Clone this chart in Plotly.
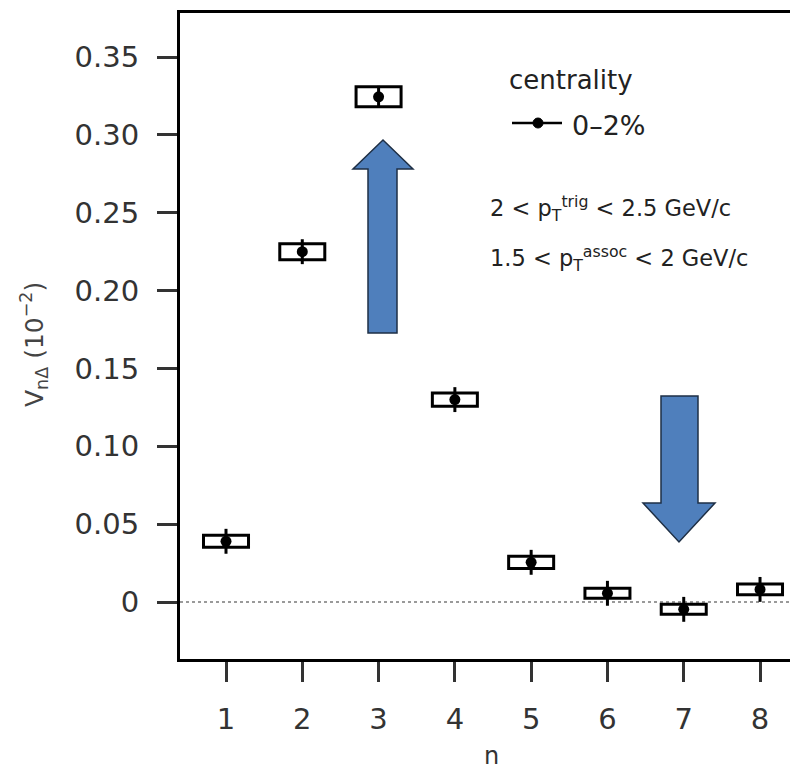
import plotly.graph_objects as go

# ---- data ----
n_vals = [1, 2, 3, 4, 5, 6, 7, 8]
v_vals = [0.039, 0.225, 0.3245, 0.130, 0.0255, 0.0056, -0.0047, 0.0081]
stat_err = [0.008, 0.008, 0.007, 0.008, 0.008, 0.008, 0.008, 0.008]
sys_err = [0.0039, 0.0051, 0.0064, 0.0042, 0.0039, 0.0032, 0.0032, 0.0035]
sys_halfwidth = 0.295
y_tickvals = [0, 0.05, 0.10, 0.15, 0.20, 0.25, 0.30, 0.35]
y_ticktext = ["0", "0.05", "0.10", "0.15", "0.20", "0.25", "0.30", "0.35"]
x_tickvals = [1, 2, 3, 4, 5, 6, 7, 8]
x_ticktext = ["1", "2", "3", "4", "5", "6", "7", "8"]

W, H = 790, 773
ML, MT, MR, MB = 180, 13, 0, 114
PW, PH = W - ML - MR, H - MT - MB


def px(x):
    return (x - ML) / PW


def py(y):
    return (H - MB - y) / PH


FONT = "DejaVu Sans"

fig = go.Figure()

# systematic boxes
for n, v, s in zip(n_vals, v_vals, sys_err):
    fig.add_shape(type="rect", xref="x", yref="y",
                  x0=n - sys_halfwidth, x1=n + sys_halfwidth, y0=v - s, y1=v + s,
                  line=dict(color="black", width=3), fillcolor="rgba(0,0,0,0)",
                  layer="above")

fig.add_trace(go.Scatter(
    x=n_vals, y=v_vals, mode="markers",
    marker=dict(color="black", size=11),
    error_y=dict(type="data", array=stat_err, color="black", thickness=3, width=0),
    showlegend=False, cliponaxis=False,
))

# zero dotted line
fig.add_shape(type="line", xref="paper", yref="y", x0=0, x1=1, y0=0, y1=0,
              line=dict(color="#9a9a9a", width=2, dash="dot"), layer="below")

# arrows
ARROW_FILL = "#4f7fbc"
ARROW_LINE = "#1e2f45"
up = [(368, 333), (368, 169), (353, 169), (383, 140), (413, 169), (397, 169), (397, 333)]
down = [(661, 396), (698, 396), (698, 503), (715, 503), (679, 542), (643, 503), (661, 503)]
for pts in (up, down):
    path = "M " + " L ".join(f"{px(a):.5f},{py(b):.5f}" for a, b in pts) + " Z"
    fig.add_shape(type="path", xref="paper", yref="paper", path=path,
                  fillcolor=ARROW_FILL, line=dict(color=ARROW_LINE, width=1.5))

# legend (manual)
fig.add_annotation(xref="paper", yref="paper", x=px(507), y=py(80), xanchor="left",
                   yanchor="middle", text="centrality", showarrow=False,
                   font=dict(family=FONT, size=26, color="#222"))
fig.add_shape(type="line", xref="paper", yref="paper", x0=px(512), x1=px(562),
              y0=py(123), y1=py(123), line=dict(color="black", width=2.5))
fig.add_shape(type="circle", xref="paper", yref="paper", x0=px(533), x1=px(543),
              y0=py(118), y1=py(128), fillcolor="black", line=dict(color="black", width=1))
fig.add_annotation(xref="paper", yref="paper", x=px(570), y=py(125), xanchor="left",
                   yanchor="middle", text="0\u20132%", showarrow=False,
                   font=dict(family=FONT, size=27, color="#222"))

# kinematic text
fig.add_annotation(xref="paper", yref="paper", x=px(488), y=py(208), xanchor="left",
                   yanchor="middle",
                   text="2 &lt; p<sub>T</sub><sup>trig</sup> &lt; 2.5 GeV/c", showarrow=False,
                   font=dict(family=FONT, size=22.5, color="#222"))
fig.add_annotation(xref="paper", yref="paper", x=px(488), y=py(258), xanchor="left",
                   yanchor="middle",
                   text="1.5 &lt; p<sub>T</sub><sup>assoc</sup> &lt; 2 GeV/c", showarrow=False,
                   font=dict(family=FONT, size=22.5, color="#222"))

# y title
fig.add_annotation(xref="paper", yref="paper", x=px(34), y=py(345), xanchor="center",
                   yanchor="middle", textangle=-90,
                   text="V<sub>n\u0394</sub> (10<sup>\u22122</sup>)", showarrow=False,
                   font=dict(family=FONT, size=25, color="#444"))
# x title
fig.add_annotation(xref="paper", yref="paper", x=px(491), y=py(756), xanchor="center",
                   yanchor="middle", text="n", showarrow=False,
                   font=dict(family=FONT, size=24, color="#333"))

fig.update_layout(
    width=W, height=H,
    margin=dict(l=ML, r=MR, t=MT, b=MB, pad=0),
    paper_bgcolor="white", plot_bgcolor="white",
    showlegend=False,
    xaxis=dict(range=[0.397, 8.393], tickvals=x_tickvals, ticktext=x_ticktext,
               showgrid=False, zeroline=False, showline=True, mirror=True,
               linecolor="black", linewidth=3, ticks="outside", ticklen=20,
               tickwidth=2.5, tickcolor="#333", ticklabelstandoff=12,
               tickfont=dict(family=FONT, size=29, color="#333")),
    yaxis=dict(range=[-0.0366, 0.3783], tickvals=y_tickvals, ticktext=y_ticktext,
               showgrid=False, zeroline=False, showline=True, mirror=False,
               linecolor="black", linewidth=3, ticks="outside", ticklen=20,
               tickwidth=2.5, tickcolor="#333", ticklabelstandoff=12,
               tickfont=dict(family=FONT, size=29, color="#333")),
)

fig.write_html("out.html")
